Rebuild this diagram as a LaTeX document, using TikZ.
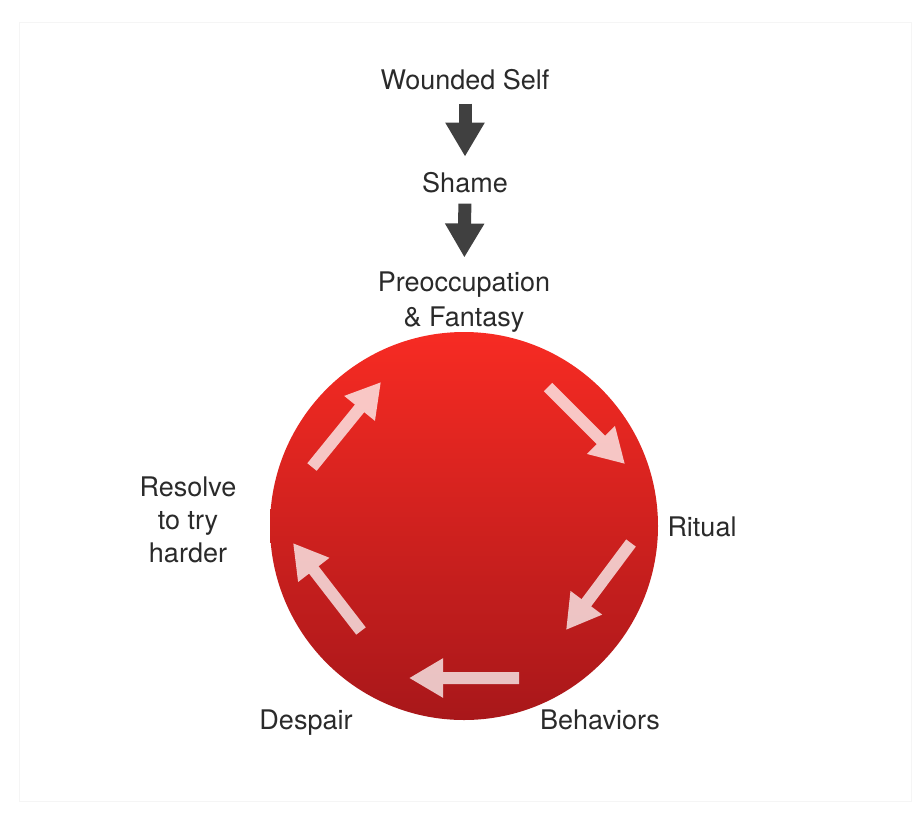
\documentclass[tikz,border=0pt]{standalone}
\usepackage{fontspec}
\setmainfont{TeX Gyre Heros}
\usetikzlibrary{arrows.meta}
\definecolor{txt}{HTML}{2A2A2A}
\definecolor{darkarrow}{HTML}{404040}
\definecolor{redtop}{HTML}{F72B23}
\definecolor{redbot}{HTML}{A8171A}
\definecolor{frame}{HTML}{F5F5F5}
\tikzset{
  lbl/.style={inner sep=0pt, text=txt, font=\fontsize{27}{35}\selectfont, align=center},
  darkarr/.style={draw=darkarrow, line width=13pt, -{Triangle[length=34pt,width=37pt]}},
  pinkarr/.style={draw=white, line width=12pt, -{Triangle[length=34pt,width=37pt]}},
}
\begin{document}
\begin{tikzpicture}[x=1pt,y=-1pt]
\useasboundingbox (0,0) rectangle (924,823);
\draw[frame, line width=1pt] (19,22) rectangle (911,801);

% text labels
\node[lbl, anchor=base] (wounded) at (465,89) {Wounded Self};
\node[lbl, anchor=base] (shame) at (465,192) {Shame};
\node[lbl, anchor=north] (preocc) at (464,271.5) {Preoccupation\\\& Fantasy};
\node[lbl, anchor=base] (ritual) at (702,536) {Ritual};
\node[lbl, anchor=base] (behav) at (600,729) {Behaviors};
\node[lbl, anchor=base] (despair) at (306,729) {Despair};
\node[lbl, anchor=north, font=\fontsize{27}{33}\selectfont] (resolve) at (188,476.5) {Resolve\\to try\\harder};

% dark arrows
\draw[darkarr, shorten <=14pt, shorten >=15pt] (wounded) -- (shame);
\draw[darkarr, shorten <=11pt, shorten >=14pt] (shame) -- (preocc);

% circle
\node[circle, minimum size=388pt, inner sep=0pt, draw=none] (cycle) at (464,526) {};
\shade[top color=redtop, bottom color=redbot] (cycle.center) circle[radius=194pt];

% pink cycle arrows
\coordinate (t1) at (312,467); \coordinate (h1) at (381,382);
\coordinate (t2) at (548,387); \coordinate (h2) at (625,464);
\coordinate (t3) at (631,543); \coordinate (h3) at (566,630);
\coordinate (t4) at (519,678); \coordinate (h4) at (409,678);
\coordinate (t5) at (361,631); \coordinate (h5) at (293,543);
\foreach \i in {1,...,5}{
  \begin{scope}[transparency group, opacity=0.74]
    \draw[pinkarr] (t\i) -- (h\i);
  \end{scope}
}
\end{tikzpicture}
\end{document}
